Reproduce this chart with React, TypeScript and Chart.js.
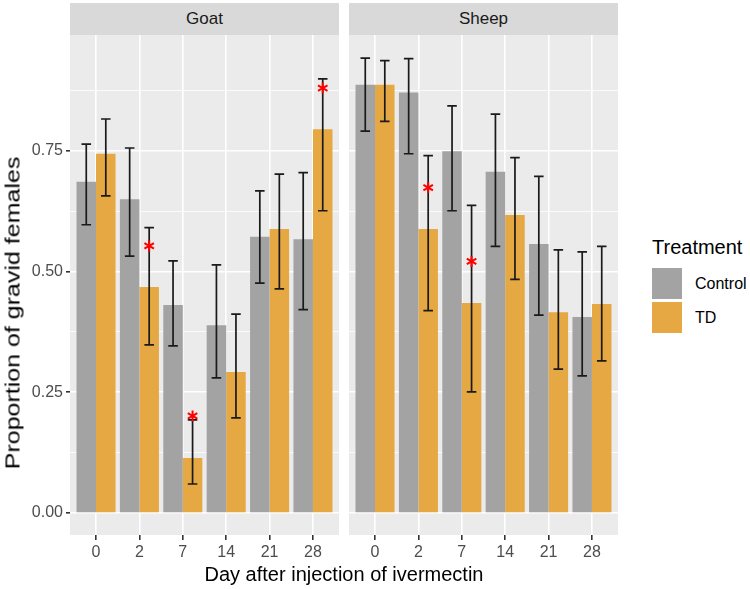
import React, { useEffect, useRef } from "react";
import { Chart, registerables } from "chart.js";

Chart.register(...registerables);

const days = ["0", "2", "7", "14", "21", "28"];
const yTickValues = [0, 0.125, 0.25, 0.375, 0.5, 0.625, 0.75, 0.875];

const goatControl = [0.686, 0.65, 0.431, 0.389, 0.572, 0.567];
const goatControlLo = [0.597, 0.532, 0.346, 0.28, 0.476, 0.421];
const goatControlHi = [0.764, 0.756, 0.522, 0.514, 0.667, 0.705];
const goatTD = [0.744, 0.468, 0.114, 0.292, 0.588, 0.795];
const goatTDLo = [0.657, 0.348, 0.06, 0.197, 0.464, 0.626];
const goatTDHi = [0.816, 0.591, 0.193, 0.412, 0.702, 0.899];
const goatStar = [null, 0.553, 0.201, null, null, 0.88];

const sheepControl = [0.887, 0.871, 0.749, 0.707, 0.557, 0.406];
const sheepControlLo = [0.791, 0.744, 0.626, 0.552, 0.41, 0.284];
const sheepControlHi = [0.942, 0.941, 0.843, 0.826, 0.697, 0.541];
const sheepTD = [0.887, 0.588, 0.435, 0.617, 0.416, 0.433];
const sheepTDLo = [0.811, 0.419, 0.251, 0.484, 0.298, 0.315];
const sheepTDHi = [0.937, 0.74, 0.637, 0.736, 0.545, 0.552];
const sheepStar = [null, 0.674, 0.521, null, null, null];

const GRAY = "#A3A3A3";
const ORANGE = "#E5A843";
const FONT = "'Liberation Sans', Arial, sans-serif";

type PanelData = {
  ctrl: number[];
  ctrlLo: number[];
  ctrlHi: number[];
  td: number[];
  tdLo: number[];
  tdHi: number[];
  star: (number | null)[];
};

const isMajor = (v: number) => Math.abs(v * 4 - Math.round(v * 4)) < 1e-6;

const zeroPad = (axis: any) => {
  axis.paddingTop = 0;
  axis.paddingBottom = 0;
  axis.paddingLeft = 0;
  axis.paddingRight = 0;
};

function makeConfig(d: PanelData, showY: boolean): any {
  const overlay = {
    id: "overlay",
    beforeDraw(chart: any) {
      const { ctx, chartArea } = chart;
      ctx.save();
      ctx.fillStyle = "#EBEBEB";
      ctx.fillRect(chartArea.left, chartArea.top, chartArea.right - chartArea.left, chartArea.bottom - chartArea.top);
      ctx.restore();
    },
    afterDatasetsDraw(chart: any) {
      const ctx = chart.ctx;
      const xs = chart.scales.x;
      const ys = chart.scales.y;
      const half = Math.abs(xs.getPixelForValue(0.11) - xs.getPixelForValue(0));
      const pairs = [
        [d.ctrlLo, d.ctrlHi],
        [d.tdLo, d.tdHi],
      ];
      ctx.save();
      ctx.strokeStyle = "#1A1A1A";
      ctx.lineWidth = 1.7;
      pairs.forEach((p, di) => {
        const meta = chart.getDatasetMeta(di);
        meta.data.forEach((bar: any, i: number) => {
          const x = bar.x;
          const y1 = ys.getPixelForValue(p[0][i]);
          const y2 = ys.getPixelForValue(p[1][i]);
          ctx.beginPath();
          ctx.moveTo(x, y1);
          ctx.lineTo(x, y2);
          ctx.moveTo(x - half, y1);
          ctx.lineTo(x + half, y1);
          ctx.moveTo(x - half, y2);
          ctx.lineTo(x + half, y2);
          ctx.stroke();
        });
      });
      // asterisks
      const tdMeta = chart.getDatasetMeta(1);
      ctx.strokeStyle = "#FF0000";
      ctx.lineWidth = 2;
      d.star.forEach((s, i) => {
        if (s === null) return;
        const x = tdMeta.data[i].x;
        const y = ys.getPixelForValue(s);
        const r = 5.5;
        ctx.beginPath();
        for (let k = 0; k < 3; k++) {
          const a = Math.PI / 2 + (k * Math.PI) / 3;
          ctx.moveTo(x + r * Math.cos(a), y + r * Math.sin(a));
          ctx.lineTo(x - r * Math.cos(a), y - r * Math.sin(a));
        }
        ctx.stroke();
      });
      ctx.restore();
    },
  };

  return {
    type: "bar",
    data: {
      datasets: [
        {
          label: "Control",
          data: d.ctrl.map((v, i) => ({ x: i + 1, y: v })),
          backgroundColor: GRAY,
          borderWidth: 0,
          categoryPercentage: 0.9,
          barPercentage: 1.0,
        },
        {
          label: "TD",
          data: d.td.map((v, i) => ({ x: i + 1, y: v })),
          backgroundColor: ORANGE,
          borderWidth: 0,
          categoryPercentage: 0.9,
          barPercentage: 1.0,
        },
      ],
    },
    options: {
      responsive: false,
      animation: false,
      devicePixelRatio: 1,
      layout: { padding: 0 },
      plugins: { legend: { display: false }, tooltip: { enabled: false } },
      scales: {
        x: {
          type: "linear",
          offset: false,
          min: 0.4,
          max: 6.6,
          afterBuildTicks: (axis: any) => {
            axis.ticks = days.map((_, i) => ({ value: i + 1 }));
          },
          afterFit: (axis: any) => {
            axis.height = 54;
            zeroPad(axis);
          },
          border: { display: false },
          grid: {
            offset: false,
            color: "#FFFFFF",
            lineWidth: 1.6,
            tickColor: "#333333",
            tickLength: 5,
            drawTicks: true,
          },
          ticks: {
            autoSkip: false,
            maxRotation: 0,
            padding: 3,
            color: "#4D4D4D",
            font: { family: FONT, size: 16 },
            callback: (v: any) => days[Math.round(v) - 1] ?? "",
          },
        },
        y: {
          type: "linear",
          min: -0.0456,
          max: 0.99,
          afterBuildTicks: (axis: any) => {
            axis.ticks = yTickValues.map((v) => ({ value: v }));
          },
          afterFit: (axis: any) => {
            axis.width = showY ? 70 : 0;
            zeroPad(axis);
          },
          border: { display: false },
          grid: {
            color: "#FFFFFF",
            lineWidth: (c: any) => (c.tick && isMajor(c.tick.value) ? 1.6 : 0.8),
            tickColor: (c: any) => (c.tick && isMajor(c.tick.value) ? "#333333" : "rgba(0,0,0,0)"),
            tickLength: 4,
            drawTicks: showY,
          },
          ticks: {
            display: showY,
            autoSkip: false,
            padding: 3,
            color: "#4D4D4D",
            font: { family: FONT, size: 16 },
            callback: (v: any) => (isMajor(v) ? Number(v).toFixed(2) : ""),
          },
        },
      },
    },
    plugins: [overlay],
  };
}

function Panel({ data, showY, left, width }: { data: PanelData; showY: boolean; left: number; width: number }) {
  const ref = useRef<HTMLCanvasElement | null>(null);
  useEffect(() => {
    if (!ref.current) return;
    const chart = new Chart(ref.current, makeConfig(data, showY));
    return () => chart.destroy();
  }, []);
  return (
    <canvas
      ref={ref}
      width={width}
      height={554}
      style={{ position: "absolute", left, top: 35, width, height: 554 }}
    />
  );
}

const goatData: PanelData = {
  ctrl: goatControl,
  ctrlLo: goatControlLo,
  ctrlHi: goatControlHi,
  td: goatTD,
  tdLo: goatTDLo,
  tdHi: goatTDHi,
  star: goatStar,
};
const sheepData: PanelData = {
  ctrl: sheepControl,
  ctrlLo: sheepControlLo,
  ctrlHi: sheepControlHi,
  td: sheepTD,
  tdLo: sheepTDLo,
  tdHi: sheepTDHi,
  star: sheepStar,
};

export default function App() {
  const strip = (left: number, label: string) => (
    <div
      style={{
        position: "absolute",
        left,
        top: 3,
        width: 269,
        height: 32,
        background: "#D9D9D9",
        color: "#1A1A1A",
        fontFamily: FONT,
        fontSize: 17,
        display: "flex",
        alignItems: "center",
        justifyContent: "center",
      }}
    >
      {label}
    </div>
  );
  return (
    <div style={{ position: "absolute", left: 0, top: 0, width: 750, height: 589, background: "#FFFFFF", overflow: "hidden" }}>
      {strip(70, "Goat")}
      {strip(349, "Sheep")}
      <Panel data={goatData} showY={true} left={0} width={339} />
      <Panel data={sheepData} showY={false} left={349} width={269} />
      <div
        style={{
          position: "absolute",
          left: 13,
          top: 313,
          transform: "translate(-50%, -50%) rotate(-90deg) scaleX(1.25)",
          whiteSpace: "nowrap",
          fontFamily: FONT,
          fontSize: 20,
          color: "#000000",
        }}
      >
        Proportion of gravid females
      </div>
      <div
        style={{
          position: "absolute",
          left: 344,
          top: 574,
          transform: "translate(-50%, -50%)",
          whiteSpace: "nowrap",
          fontFamily: FONT,
          fontSize: 20,
          color: "#000000",
        }}
      >
        Day after injection of ivermectin
      </div>
      <div
        style={{
          position: "absolute",
          left: 652,
          top: 247,
          transform: "translateY(-50%)",
          whiteSpace: "nowrap",
          fontFamily: FONT,
          fontSize: 20,
          color: "#000000",
        }}
      >
        Treatment
      </div>
      <div style={{ position: "absolute", left: 652, top: 268, width: 30, height: 31, background: GRAY }} />
      <div style={{ position: "absolute", left: 652, top: 302, width: 30, height: 31, background: ORANGE }} />
      <div
        style={{
          position: "absolute",
          left: 695,
          top: 284,
          transform: "translateY(-50%)",
          fontFamily: FONT,
          fontSize: 16,
          color: "#000000",
        }}
      >
        Control
      </div>
      <div
        style={{
          position: "absolute",
          left: 695,
          top: 318,
          transform: "translateY(-50%)",
          fontFamily: FONT,
          fontSize: 16,
          color: "#000000",
        }}
      >
        TD
      </div>
    </div>
  );
}
